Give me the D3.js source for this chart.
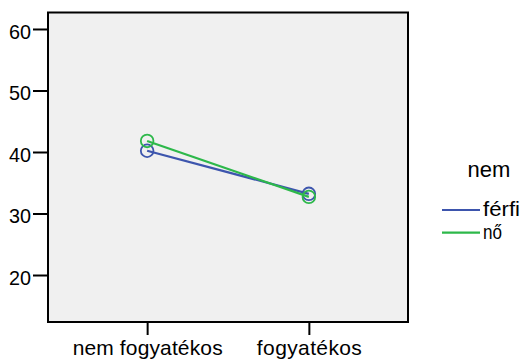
<!DOCTYPE html>
<html>
<head>
<meta charset="utf-8">
<script src="https://cdn.jsdelivr.net/npm/d3@7"></script>
<style>
  html, body { margin: 0; padding: 0; background: #fff; }
  svg { display: block; }
  text { font-family: "Liberation Sans", Arial, sans-serif; fill: #000; }
</style>
</head>
<body>
<svg id="chart" width="528" height="361"></svg>
<script>
// Categories on the x axis
const categories = ["nem fogyatékos", "fogyatékos"];
// Series names (legend) and their means per category
const seriesNames = ["férfi", "nő"];
const ferfiValues = [40.2, 33.2];
const noValues = [41.8, 32.7];
// Tick values on the y axis
const yTicks = [20, 30, 40, 50, 60];
const legendTitle = "nem";

const colors = { "férfi": "#3d55ad", "nő": "#2db84a" };
const series = [
  { name: seriesNames[0], values: ferfiValues },
  { name: seriesNames[1], values: noValues }
];

const svg = d3.select("#chart");
const plot = { left: 48, right: 408, top: 12.5, bottom: 322 };

const x = d3.scalePoint()
  .domain(categories)
  .range([plot.left, plot.right])
  .padding(0.613);

const y = d3.scaleLinear()
  .domain([12.36, 62.68])
  .range([plot.bottom, plot.top]);

// Plot background and frame
svg.append("rect")
  .attr("x", plot.left).attr("y", plot.top)
  .attr("width", plot.right - plot.left)
  .attr("height", plot.bottom - plot.top)
  .attr("fill", "#f0f0f0")
  .attr("stroke", "#000")
  .attr("stroke-width", 2);

// Y axis
const yAxis = d3.axisLeft(y).tickValues(yTicks).tickSize(15).tickPadding(2).tickFormat(d3.format("d"));
const gy = svg.append("g").attr("transform", `translate(${plot.left},0)`).call(yAxis);
gy.select(".domain").remove();
gy.selectAll(".tick line").attr("stroke", "#000").attr("stroke-width", 2);
gy.selectAll(".tick text")
  .attr("font-size", 21)
  .attr("dy", "0.45em")
  .attr("textLength", 22)
  .attr("lengthAdjust", "spacingAndGlyphs")
  .style("font-family", '"Liberation Sans", Arial, sans-serif');

// X axis
const xAxis = d3.axisBottom(x).tickSize(13).tickPadding(6);
const gx = svg.append("g").attr("transform", `translate(0,${plot.bottom})`).call(xAxis);
gx.select(".domain").remove();
gx.selectAll(".tick line").attr("stroke", "#000").attr("stroke-width", 2);
gx.selectAll(".tick text")
  .attr("font-size", 21)
  .attr("dy", "0.71em")
  .attr("y", 18.5)
  .style("font-family", '"Liberation Sans", Arial, sans-serif')
  .attr("textLength", d => d === "nem fogyatékos" ? 150 : 105)
  .attr("lengthAdjust", "spacing");

// Lines and circle markers
const line = d3.line()
  .x((d, i) => x(categories[i]))
  .y(d => y(d));

series.forEach(s => {
  const g = svg.append("g");
  g.append("path")
    .datum(s.values)
    .attr("d", line)
    .attr("fill", "none")
    .attr("stroke", colors[s.name])
    .attr("stroke-width", 2.2);
  g.selectAll("circle")
    .data(s.values)
    .join("circle")
    .attr("cx", (d, i) => x(categories[i]))
    .attr("cy", d => y(d))
    .attr("r", 6.3)
    .attr("fill", "none")
    .attr("stroke", colors[s.name])
    .attr("stroke-width", 1.8);
});

// Legend
const legend = svg.append("g");
legend.append("text")
  .attr("x", 489).attr("y", 177)
  .attr("text-anchor", "middle")
  .attr("font-size", 22)
  .text(legendTitle);

const legendRows = [{ ly: 210, ty: 215.5 }, { ly: 232.7, ty: 238.5 }];
series.forEach((s, i) => {
  legend.append("line")
    .attr("x1", 442).attr("x2", 480)
    .attr("y1", legendRows[i].ly).attr("y2", legendRows[i].ly)
    .attr("stroke", colors[s.name])
    .attr("stroke-width", 2.2);
  legend.append("text")
    .attr("x", 483).attr("y", legendRows[i].ty)
    .attr("font-size", 20)
    .attr("textLength", i === 0 ? 37 : 19)
    .attr("lengthAdjust", "spacingAndGlyphs")
    .text(s.name);
});
</script>
</body>
</html>
